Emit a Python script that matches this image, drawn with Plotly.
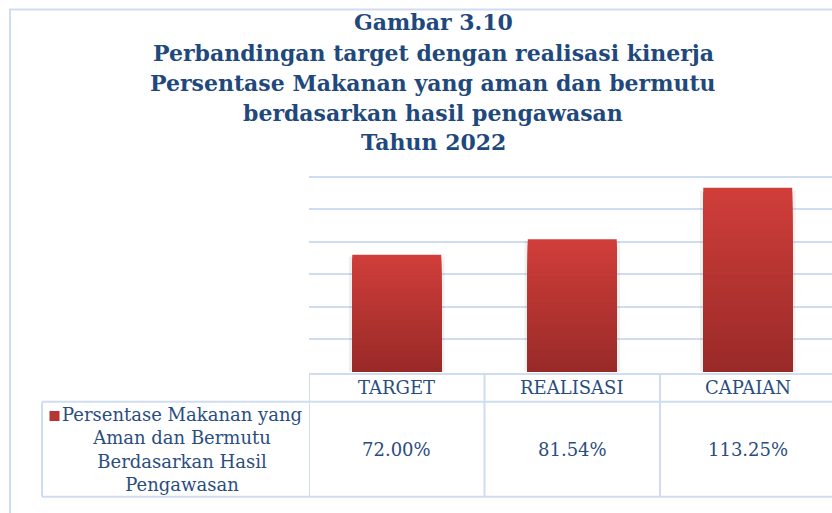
import plotly.graph_objects as go

# ---- data ----
categories = ["TARGET", "REALISASI", "CAPAIAN"]
values = [72.00, 81.54, 113.25]
series_name = "Persentase Makanan yang<br>Aman dan Bermutu<br>Berdasarkan Hasil<br>Pengawasan"
title_lines = [
    "Gambar 3.10",
    "Perbandingan target dengan realisasi kinerja",
    "Persentase Makanan yang aman dan bermutu",
    "berdasarkan hasil pengawasan",
    "Tahun 2022",
]
y_ticks = [20, 40, 60, 80, 100, 120]

W, H = 832, 513
def px(x):
    return x / W
def py(y):
    return 1 - y / H

FONT = "DejaVu Serif"
TITLE_COLOR = "#1f497d"
TEXT_COLOR = "#2a4d80"
LINE_COLOR = "#d0ddf0"
TOP = (208, 62, 58)
BOT = (153, 42, 40)

fig = go.Figure()

# soft shadow behind bars
fig.add_trace(go.Bar(
    x=categories, y=[v * 0.985 for v in values], width=0.545,
    marker=dict(color="rgba(0,0,0,0.06)", line=dict(width=0)),
    hoverinfo="skip", showlegend=False,
))

# vertical gradient for each bar, drawn as overlaid bars of shrinking height
N = 40
for i in range(N):
    t = i / (N - 1)
    c = tuple(round(TOP[k] + (BOT[k] - TOP[k]) * t) for k in range(3))
    fig.add_trace(go.Bar(
        x=categories, y=[v * (N - i) / N for v in values], width=0.507,
        marker=dict(color="rgb(%d,%d,%d)" % c, line=dict(width=0)),
        hoverinfo="skip", showlegend=False,
    ))

y_top = 124.0
base_px = 371.7
px_per_unit = 195.0 / 120.0
fig.update_layout(
    width=W, height=H,
    margin=dict(l=0, r=0, t=0, b=0),
    paper_bgcolor="white", plot_bgcolor="white",
    barmode="overlay",
    showlegend=False,
    xaxis=dict(
        type="category", categoryorder="array", categoryarray=categories,
        domain=[px(309), 1], range=[-0.5, 2.5 - 3.5 / 175.5],
        showticklabels=False, showgrid=False, zeroline=False, showline=False, ticks="",
    ),
    yaxis=dict(
        domain=[py(base_px), py(base_px - y_top * px_per_unit)], range=[0, y_top],
        tickvals=y_ticks, showticklabels=False, showgrid=True,
        gridcolor=LINE_COLOR, gridwidth=1.6, zeroline=False, showline=False, ticks="",
    ),
)

shapes = []
# outer chart border (extends past the visible area)
shapes.append(dict(type="rect", xref="paper", yref="paper",
                   x0=px(10), x1=px(W + 40), y0=py(H + 40), y1=py(9.5),
                   line=dict(color=LINE_COLOR, width=2), fillcolor="rgba(0,0,0,0)", layer="below"))

tbl_top, tbl_mid, tbl_bot = 374, 401.7, 496.7
shapes.append(dict(type="line", xref="x", yref="paper", x0=-0.5, x1=3.0,
                   y0=py(tbl_top), y1=py(tbl_top), line=dict(color=LINE_COLOR, width=2)))
for yy in (tbl_mid, tbl_bot):
    shapes.append(dict(type="line", xref="paper", yref="paper", x0=px(42), x1=px(W + 20),
                       y0=py(yy), y1=py(yy), line=dict(color=LINE_COLOR, width=2)))
shapes.append(dict(type="line", xref="paper", yref="paper", x0=px(42), x1=px(42),
                   y0=py(tbl_mid), y1=py(tbl_bot), line=dict(color=LINE_COLOR, width=2)))
for xb in (-0.5, 0.5, 1.5):
    shapes.append(dict(type="line", xref="x", yref="paper", x0=xb, x1=xb,
                       y0=py(tbl_top), y1=py(tbl_bot), line=dict(color=LINE_COLOR, width=2)))
# legend key square
shapes.append(dict(type="rect", xref="paper", yref="paper",
                   x0=px(49.5), x1=px(59.5), y0=py(421), y1=py(411),
                   line=dict(width=0), fillcolor="#b73532"))
fig.update_layout(shapes=shapes)

ann = []
title_y = [22, 53, 83.5, 113, 142]
for txt, yy in zip(title_lines, title_y):
    ann.append(dict(text="<b>%s</b>" % txt, xref="paper", yref="paper", x=px(433), y=py(yy),
                    xanchor="center", yanchor="middle", showarrow=False,
                    font=dict(family=FONT, size=22, color=TITLE_COLOR)))
for c, v in zip(categories, values):
    ann.append(dict(text=c, xref="x", yref="paper", x=c, y=py(387.5),
                    xanchor="center", yanchor="middle", showarrow=False,
                    font=dict(family=FONT, size=18, color=TEXT_COLOR)))
    ann.append(dict(text="%.2f%%" % v, xref="x", yref="paper", x=c, y=py(449.5),
                    xanchor="center", yanchor="middle", showarrow=False,
                    font=dict(family=FONT, size=18, color=TEXT_COLOR)))
ann.append(dict(text=series_name, xref="paper", yref="paper", x=px(182), y=py(449),
                xanchor="center", yanchor="middle", align="center", showarrow=False,
                font=dict(family=FONT, size=18, color=TEXT_COLOR)))
fig.update_layout(annotations=ann)

fig.write_html("out.html",
               config={"displayModeBar": False},
               post_script="document.body.style.margin='0';document.body.style.overflow='hidden';")
